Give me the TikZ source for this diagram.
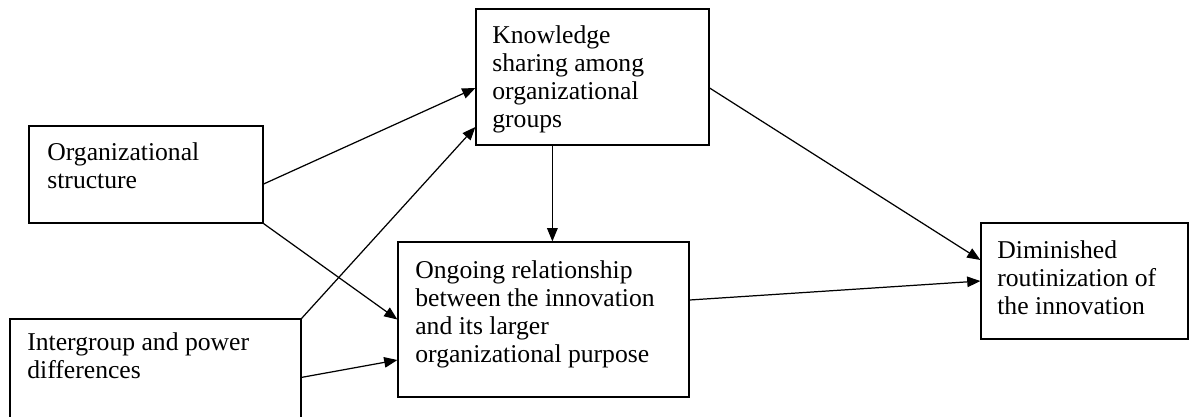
\documentclass[tikz,border=0pt]{standalone}
\usepackage{fontspec}
\setmainfont{Liberation Serif}
\usetikzlibrary{arrows.meta,calc,fit}

\begin{document}
\begin{tikzpicture}[x=0.02cm,y=-0.02cm,
  box/.style={draw, line width=0.7pt, inner sep=0pt},
  txt/.style={anchor=north west, inner sep=0pt, align=left, font=\fontsize{14.6}{16}\selectfont},
  arr/.style={line width=0.7pt, -{Triangle[length=7.5pt,width=6pt]}}]
\useasboundingbox (0,0) rectangle (1190,416);
\clip (0,0) rectangle (1190,416);

% boxes
\node[box, fit={(29,126) (263,223)}] (org) {};
\node[box, fit={(10,319) (301,440)}] (inter) {};
\node[box, fit={(476,9) (709,145)}] (know) {};
\node[box, fit={(398,242) (689,397)}] (ongo) {};
\node[box, fit={(981,223) (1188,339)}] (dimi) {};

% box texts
\node[txt] (orgtext) at (47,142) {Organizational\\structure};
\node[txt] (intertext) at (27,332) {Intergroup and power\\differences};
\node[txt] (knowtext) at (492,25) {Knowledge\\sharing among\\organizational\\groups};
\node[txt] (ongotext) at (415,260) {Ongoing relationship\\between the innovation\\and its larger\\organizational purpose};
\node[txt] (dimitext) at (997,240) {Diminished\\routinization of\\the innovation};

% arrows
\path[draw,arr] ($(org.east)+(0,9.5)$) -- ($(know.west)+(0,11)$);
\path[draw,arr] (org.south east) -- (ongo.west);
\path[draw,arr] (inter.north east) -- ($(know.west)+(0,50)$);
\path[draw,arr] ($(inter.north east)+(0,59)$) -- ($(ongo.west)+(0,40.5)$);
\path[draw,arr] ($(know.south west)+(77,0)$) -- ($(ongo.north west)+(155,0)$);
\path[draw,arr] ($(know.east)+(0,11)$) -- ($(dimi.west)+(0,-21)$);
\path[draw,arr] ($(ongo.east)+(0,-19.5)$) -- (dimi.west);
\end{tikzpicture}
\end{document}
